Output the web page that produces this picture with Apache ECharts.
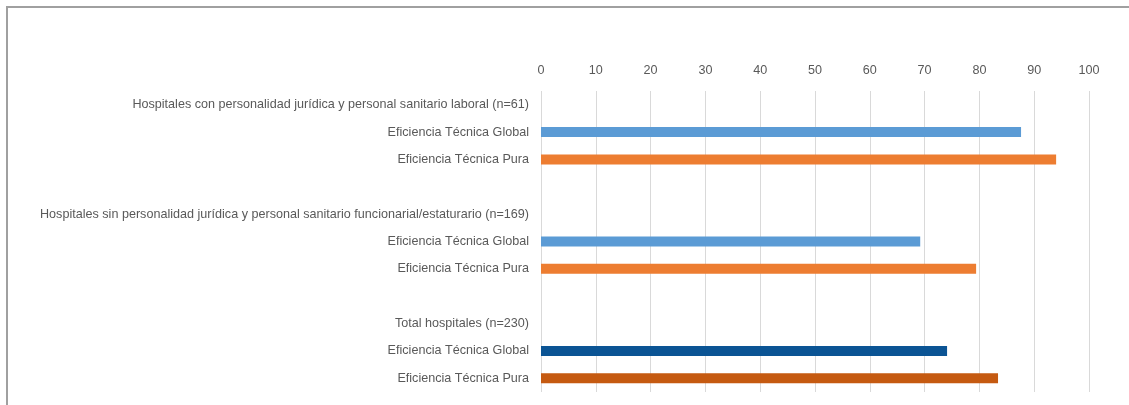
<!DOCTYPE html>
<html>
<head>
<meta charset="utf-8">
<script src="https://cdn.jsdelivr.net/npm/echarts@6/dist/echarts.min.js"></script>
<style>
  html, body { margin: 0; padding: 0; background: #ffffff; }
  #chart { width: 1129px; height: 405px; }
</style>
</head>
<body>
<div id="chart"></div>
<script>
// Hospital groups and the two efficiency measures shown for each
const groupTitles = [
  'Hospitales con personalidad jurídica y personal sanitario laboral (n=61)',
  'Hospitales sin personalidad jurídica y personal sanitario funcionarial/estaturario (n=169)',
  'Total hospitales (n=230)'
];
const measureLabels = ['Eficiencia Técnica Global', 'Eficiencia Técnica Pura'];
const globalValues = [87.6, 69.2, 74.1];
const pureValues = [94.0, 79.4, 83.4];
const globalColors = ['#5B9BD5', '#5B9BD5', '#0B5494'];
const pureColors = ['#ED7D31', '#ED7D31', '#C55A11'];
const axisMin = 0, axisMax = 100, axisStep = 10;

// Rows: group title, global, pure, spacer (no spacer after the last group)
const categories = [];
const barData = [];
groupTitles.forEach((title, i) => {
  categories.push(title);
  barData.push(null);
  categories.push(measureLabels[0]);
  barData.push({ value: globalValues[i], itemStyle: { color: globalColors[i] } });
  categories.push(measureLabels[1]);
  barData.push({ value: pureValues[i], itemStyle: { color: pureColors[i] } });
  if (i < groupTitles.length - 1) {
    categories.push('');
    barData.push(null);
  }
});

const chart = echarts.init(document.getElementById('chart'), null, { renderer: 'canvas' });
const font = '"Liberation Sans Narrow", "Arial Narrow", "Liberation Sans", sans-serif';

chart.setOption({
  animation: false,
  backgroundColor: '#ffffff',
  graphic: [{
    type: 'rect',
    shape: { x: 7, y: 7, width: 1200, height: 500 },
    style: { fill: 'none', stroke: '#a0a0a0', lineWidth: 2 },
    silent: true
  }],
  grid: { left: 541, right: 40, top: 91, bottom: 13 },
  xAxis: {
    type: 'value',
    position: 'top',
    min: axisMin,
    max: axisMax,
    interval: axisStep,
    axisLine: { show: false },
    axisTick: { show: false },
    axisLabel: { color: '#595959', fontFamily: font, fontSize: 12.6, margin: 14 },
    splitLine: { show: true, lineStyle: { color: '#d9d9d9', width: 1 } }
  },
  yAxis: {
    type: 'category',
    inverse: true,
    data: categories,
    axisLine: { show: false },
    axisTick: { show: false },
    axisLabel: { color: '#595959', fontFamily: font, fontSize: 12.6, margin: 12, interval: 0 },
    splitLine: { show: false }
  },
  series: [{
    type: 'bar',
    data: barData,
    barWidth: 10,
    silent: true
  }]
});
</script>
</body>
</html>
